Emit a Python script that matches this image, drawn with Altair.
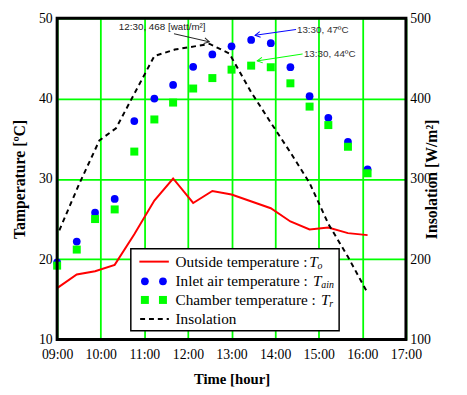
import altair as alt
import pandas as pd

# ---- data ----
hours = [9.0, 9.45, 9.87, 10.32, 10.77, 11.23, 11.66, 12.12, 12.56, 13.0,
         13.45, 13.9, 14.35, 14.79, 15.22, 15.67, 16.12]
inlet = [19.6, 22.2, 25.8, 27.5, 37.2, 40.0, 41.7, 43.95, 45.5, 46.5,
         47.3, 46.9, 43.9, 40.3, 37.6, 34.6, 31.2]
chamber = [19.2, 21.2, 25.0, 26.2, 33.4, 37.4, 39.5, 41.25, 42.55, 43.6,
           44.1, 43.9, 41.9, 39.0, 36.7, 34.0, 30.7]

out_hours = [9.0, 9.45, 9.87, 10.32, 10.77, 11.23, 11.66, 12.12, 12.56, 13.0,
             13.9, 14.35, 14.79, 15.22, 15.67, 16.12]
outside = [16.4, 18.1, 18.5, 19.3, 23.1, 27.3, 30.05, 27.0, 28.5, 28.05,
           26.35, 24.7, 23.7, 23.95, 23.25, 23.0]

ins_hours = [9.05, 9.5, 9.97, 10.35, 11.23, 11.7, 12.15, 12.5, 12.95, 13.45,
             13.9, 14.35, 14.79, 15.22, 15.67, 16.12]
insolation = [236, 293, 348, 363, 453, 461, 465, 468, 456, 408,
              370, 333, 295, 244, 203, 158]

x_ticks = [9, 10, 11, 12, 13, 14, 15, 16, 17]
temp_ticks = [10, 20, 30, 40, 50]
ins_ticks = [100, 200, 300, 400, 500]

# annotations (in hour / temperature units)
arrow_h1 = [11.68, 14.48, 14.63]
arrow_t1 = [48.07, 48.6, 45.55]
arrow_h2 = [12.49, 13.54, 13.59]
arrow_t2 = [47.06, 47.88, 44.69]
arrow_col = ["#222222", "#0000ff", "#00ff00"]
arrow_ang = [13, 171, 171]

ann_h = [11.41, 14.5, 14.66]
ann_t = [48.9, 48.5, 45.5]
ann_text = ["12:30, 468 [watt/m²]", "13:30, 47ºC", "13:30, 44ºC"]
ann_align = ["center", "left", "left"]

SERIF = "'Liberation Serif', 'Times New Roman', Times, serif"
SANS = "'Liberation Sans', Arial, Helvetica, sans-serif"
GREEN = "#00ff00"
W, H = 355, 327

df_pts = pd.DataFrame({"hour": hours, "inlet": inlet, "chamber": chamber})
df_out = pd.DataFrame({"hour": out_hours, "temp": outside})
df_ins = pd.DataFrame({"hour": ins_hours, "ins": insolation})
df_arr = pd.DataFrame({"hour": arrow_h1, "temp": arrow_t1, "hour2": arrow_h2,
                       "temp2": arrow_t2, "col": arrow_col, "ang": arrow_ang})
df_ann = pd.DataFrame({"hour": ann_h, "temp": ann_t, "label": ann_text,
                       "col": arrow_col, "al": ann_align})
dummy = pd.DataFrame({"a": [0]})

x_axis = alt.Axis(values=x_ticks,
                  labelExpr="(datum.value<10?'0':'')+datum.value+':00'",
                  title="Time [hour]", grid=True, gridColor=GREEN, gridWidth=1.8,
                  domain=False, ticks=False, labelFont=SERIF, labelFontSize=14,
                  labelColor="black", labelPadding=8, labelFlush=False,
                  titleFont=SERIF, titleFontSize=15, titleFontWeight="bold",
                  titleColor="black", titlePadding=11)
x_scale = alt.Scale(domain=[9, 17], nice=False, zero=False)


def X(field="hour"):
    return alt.X(f"{field}:Q", scale=x_scale, axis=x_axis)


t_axis = alt.Axis(values=temp_ticks, title="Tamperature  [ºC]", grid=True,
                  gridColor=GREEN, gridWidth=1.8, domain=False, ticks=False,
                  labelFont=SERIF, labelFontSize=14, labelColor="black",
                  labelPadding=5, titleFont=SERIF, titleFontSize=16,
                  titleFontWeight="bold", titleColor="black", titlePadding=11)
t_scale = alt.Scale(domain=[10, 50], nice=False, zero=False)


def Y(field):
    return alt.Y(f"{field}:Q", scale=t_scale, axis=t_axis)


red = alt.Chart(df_out).mark_line(color="#ff0000", strokeWidth=2).encode(
    x=X(), y=Y("temp"))
blue = alt.Chart(df_pts).mark_point(shape="circle", filled=True, color="#0000ff",
                                    size=62, opacity=1).encode(x=X(), y=Y("inlet"))
green = alt.Chart(df_pts).mark_point(shape="square", filled=True, color=GREEN,
                                     size=66, opacity=1).encode(x=X(), y=Y("chamber"))
arr_line = alt.Chart(df_arr).mark_rule(strokeWidth=1).encode(
    x=X(), y=Y("temp"), x2="hour2:Q", y2="temp2:Q",
    color=alt.Color("col:N", scale=None))
arr_head = alt.Chart(df_arr).mark_point(
    shape="M-1,-0.55L0,0L-1,0.55", filled=False, size=110, strokeWidth=1,
    opacity=1).encode(
    x=X("hour2"), y=Y("temp2"), color=alt.Color("col:N", scale=None),
    angle=alt.Angle("ang:Q", scale=None))
ann_c = alt.Chart(df_ann[df_ann.al == "center"]).mark_text(
    font=SANS, fontSize=10, align="center", baseline="middle").encode(
    x=X(), y=Y("temp"), text="label:N", color=alt.Color("col:N", scale=None))
ann_l = alt.Chart(df_ann[df_ann.al == "left"]).mark_text(
    font=SANS, fontSize=10, align="left", baseline="middle").encode(
    x=X(), y=Y("temp"), text="label:N",
    color=alt.value("#333333"))

temp_group = alt.layer(red, blue, green, arr_line, arr_head, ann_c, ann_l)

ins_line = alt.Chart(df_ins).mark_line(color="black", strokeDash=[5, 4],
                                       strokeWidth=2).encode(
    x=X(),
    y=alt.Y("ins:Q", scale=alt.Scale(domain=[100, 500], nice=False, zero=False),
            axis=alt.Axis(orient="right", values=ins_ticks, grid=False,
                          title="Insolation [W/m²]", titleAngle=270,
                          domain=False, ticks=False, labelFont=SERIF,
                          labelFontSize=14, labelColor="black", labelPadding=4,
                          titleFont=SERIF, titleFontSize=16,
                          titleFontWeight="bold", titleColor="black",
                          titlePadding=9)))

frame = alt.Chart(dummy).mark_rect(filled=False, stroke="black", strokeWidth=3).encode(
    x=alt.value(0), x2=alt.value(W), y=alt.value(0), y2=alt.value(H))

# ---- custom legend ----
lg = []
lg.append(alt.Chart(dummy).mark_rect(fill="white", stroke="black", strokeWidth=1.5).encode(
    x=alt.value(75), x2=alt.value(287), y=alt.value(234.5), y2=alt.value(318)))
rows = [247.7, 267.7, 286.7, 306]
lg.append(alt.Chart(dummy).mark_rule(color="#ff0000", strokeWidth=2).encode(
    x=alt.value(83.7), x2=alt.value(113.7), y=alt.value(rows[0])))
for xv in (89.3, 107.7):
    lg.append(alt.Chart(dummy).mark_point(shape="circle", filled=True, color="#0000ff",
                                          size=62, opacity=1).encode(
        x=alt.value(xv), y=alt.value(rows[1])))
    lg.append(alt.Chart(dummy).mark_point(shape="square", filled=True, color=GREEN,
                                          size=66, opacity=1).encode(
        x=alt.value(xv), y=alt.value(rows[2])))
lg.append(alt.Chart(dummy).mark_rule(color="black", strokeWidth=2, strokeDash=[5, 4]).encode(
    x=alt.value(84.5), x2=alt.value(113.7), y=alt.value(rows[3])))

labels = ["Outside temperature :", "Inlet air temperature :",
          "Chamber temperature :", "Insolation"]
subs = ["o", "ain", "r"]
t_x = [256.5, 260.3, 268.5]
for i, lab in enumerate(labels):
    lg.append(alt.Chart(dummy).mark_text(font=SERIF, fontSize=15.5, align="left",
                                         baseline="middle", color="black").encode(
        x=alt.value(120.5), y=alt.value(rows[i]), text=alt.value(lab)))
for i, s in enumerate(subs):
    lg.append(alt.Chart(dummy).mark_text(font=SERIF, fontSize=15.5, fontStyle="italic",
                                         align="left", baseline="middle",
                                         color="black").encode(
        x=alt.value(t_x[i]), y=alt.value(rows[i]), text=alt.value("T")))
    lg.append(alt.Chart(dummy).mark_text(font=SERIF, fontSize=10, fontStyle="italic",
                                         align="left", baseline="middle",
                                         color="black").encode(
        x=alt.value(t_x[i] + 8.5), y=alt.value(rows[i] + 4), text=alt.value(s)))

chart = alt.layer(temp_group, ins_line, frame, *lg).resolve_scale(
    y="independent").properties(
    width=W, height=H,
    padding={"left": 50, "top": 7, "right": 54, "bottom": 52},
    autosize=alt.AutoSizeParams(type="none"),
).configure_view(stroke=None)

chart.save("out.html", embed_options={"renderer": "svg", "actions": False})
